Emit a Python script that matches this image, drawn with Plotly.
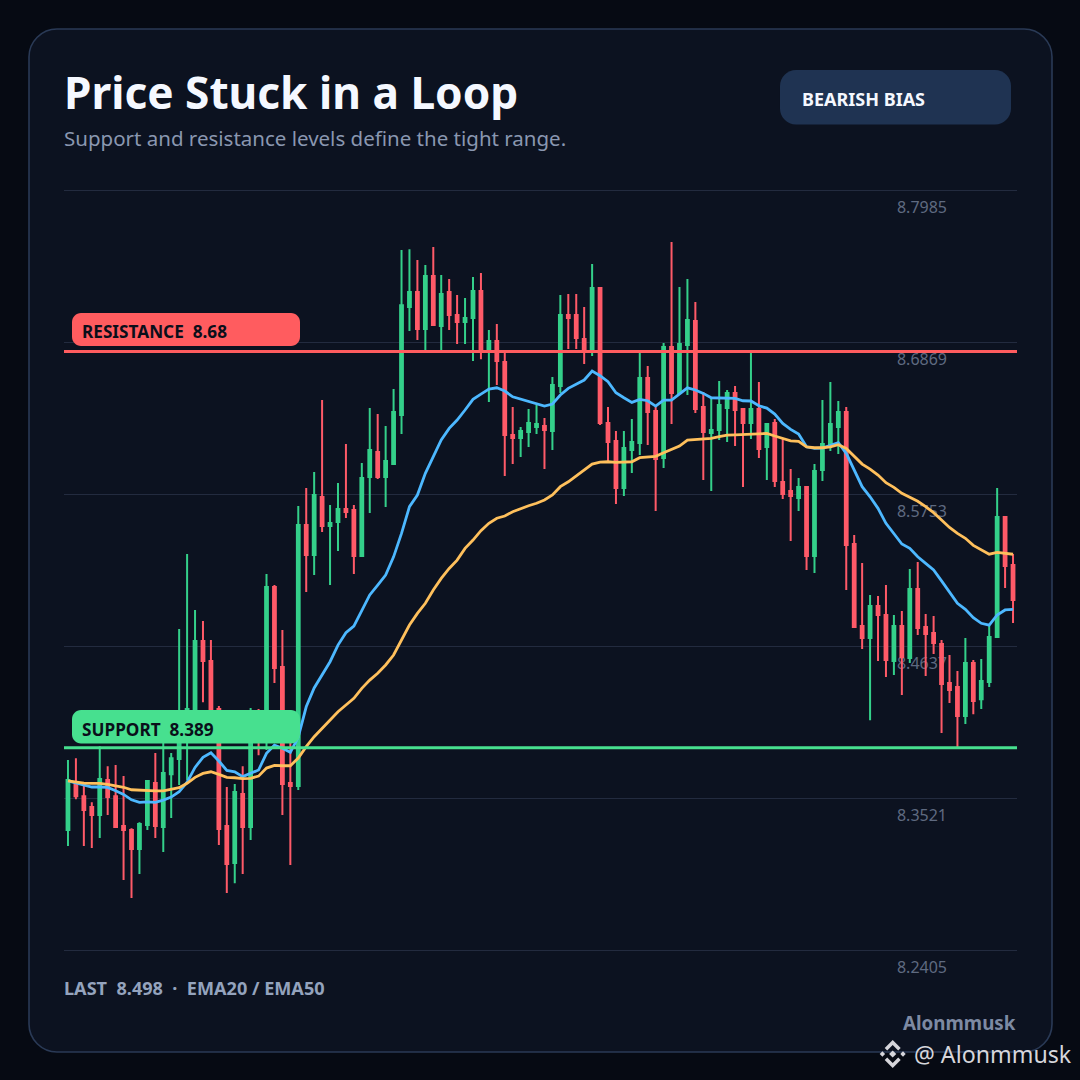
import plotly.graph_objects as go

TITLE = "Price Stuck in a Loop"
SUBTITLE = "Support and resistance levels define the tight range."
BADGE = "BEARISH BIAS"
FOOTER = "LAST\u00a0\u00a08.498\u00a0\u00a0·\u00a0\u00a0EMA20 / EMA50"
HANDLE = "Alonmmusk"
WATERMARK = "@ Alonmmusk"
RESISTANCE = 8.68
SUPPORT = 8.389
TICK_VALUES = [8.7985, 8.6869, 8.5753, 8.4637, 8.3521, 8.2405]
TICK_LABELS = ["8.7985", "8.6869", "8.5753", "8.4637", "8.3521", "8.2405"]
AXIS_MIN, AXIS_MAX = 8.2108, 8.8055

OPEN = [
8.3286,8.3638,8.3535,8.3455,8.3396,8.3653,8.3535,8.3315,8.3286,8.3146,
8.3323,8.3631,8.3308,8.3696,8.3807,8.4057,8.4174,8.4674,8.4527,8.4174,
8.3315,8.3044,8.3550,8.3308,8.4130,8.3983,8.5071,8.4483,8.3631,8.3609,
8.5525,8.5305,8.5731,8.5518,8.5548,8.5643,8.5636,8.5298,8.5878,8.6062,
8.5878,8.5973,8.6333,8.7126,8.7236,8.6965,8.7354,8.6986,8.7236,8.7067,
8.7016,8.7045,8.7243,8.6796,8.6876,8.6722,8.6186,8.6164,8.6208,8.6245,
8.6252,8.6216,8.6546,8.7067,8.7067,8.6891,8.6803,8.7265,8.6274,8.6142,
8.5797,8.6076,8.6127,8.6605,8.6363,8.6018,8.6832,8.6495,8.6847,8.7023,
8.6392,8.6201,8.6223,8.6384,8.6495,8.6377,8.6274,8.6377,8.6098,8.6274,
8.5841,8.5775,8.5724,8.5804,8.5298,8.5929,8.6113,8.6245,8.6355,8.5386,
8.4784,8.4696,8.4931,8.4865,8.4527,8.4784,8.4549,8.5056,8.4777,8.4733,
8.4652,8.4365,8.4336,8.4123,8.4512,8.4247,8.4373,8.4703,8.5584,8.5232]
HIGH = [
8.3800,8.3814,8.3609,8.3491,8.3902,8.3755,8.3763,8.3682,8.3300,8.3344,
8.3646,8.3851,8.3946,8.3851,8.4762,8.5313,8.4902,8.4821,8.4681,8.4196,
8.3602,8.3624,8.3755,8.4182,8.4174,8.5166,8.5085,8.4755,8.4093,8.5665,
8.5797,8.5915,8.6443,8.5672,8.5834,8.6120,8.5672,8.5980,8.6384,8.6340,
8.6252,8.6524,8.7544,8.7551,8.7471,8.7434,8.7566,8.7361,8.7332,8.7214,
8.7192,8.7346,8.7376,8.6957,8.7001,8.6796,8.6392,8.6245,8.6377,8.6406,
8.6311,8.6612,8.7214,8.7221,8.7221,8.7126,8.7442,8.7265,8.6392,8.6216,
8.6216,8.6304,8.6788,8.6693,8.6392,8.6862,8.7603,8.7273,8.7332,8.7163,
8.6502,8.6458,8.6583,8.6517,8.6546,8.6384,8.6788,8.6575,8.6274,8.6304,
8.6164,8.5936,8.5870,8.5804,8.5973,8.6443,8.6575,8.6436,8.6392,8.5452,
8.5247,8.5012,8.5004,8.5085,8.4865,8.4894,8.5202,8.5254,8.4872,8.4858,
8.4681,8.4571,8.4454,8.4696,8.4534,8.4542,8.4784,8.5797,8.5591,8.5312]
LOW = [
8.3168,8.3513,8.3168,8.3154,8.3227,8.3396,8.3308,8.2919,8.2787,8.2963,
8.3286,8.3227,8.3124,8.3374,8.3616,8.3653,8.4093,8.4225,8.4020,8.3176,
8.2823,8.2896,8.2963,8.3213,8.3836,8.3873,8.4365,8.3396,8.3029,8.3580,
8.5034,8.5158,8.5474,8.5085,8.5334,8.5577,8.5166,8.5298,8.5614,8.5863,
8.5658,8.5973,8.6193,8.6950,8.6884,8.6810,8.6994,8.6810,8.6957,8.6854,
8.6854,8.6729,8.6743,8.6428,8.6553,8.5885,8.5973,8.6025,8.6098,8.6193,
8.5936,8.6076,8.6495,8.6817,8.6817,8.6707,8.6766,8.6260,8.5988,8.5680,
8.5738,8.5907,8.6040,8.6113,8.5628,8.5944,8.6267,8.6495,8.6480,8.6348,
8.5856,8.5775,8.6150,8.6135,8.6106,8.5804,8.6157,8.6018,8.5856,8.5804,
8.5716,8.5408,8.5628,8.5195,8.5173,8.5848,8.6069,8.6047,8.5048,8.4777,
8.4615,8.4093,8.4527,8.4409,8.4424,8.4277,8.4512,8.4718,8.4417,8.4578,
8.3998,8.4218,8.3895,8.4064,8.4137,8.4174,8.4336,8.4703,8.5063,8.4806]
CLOSE = [
8.3653,8.3535,8.3433,8.3396,8.3660,8.3528,8.3308,8.3286,8.3146,8.3330,
8.3646,8.3315,8.3704,8.3814,8.4057,8.4174,8.4674,8.4527,8.4174,8.3293,
8.3036,8.3565,8.3308,8.4152,8.3983,8.5071,8.4476,8.3624,8.3609,8.5525,
8.5305,8.5746,8.5518,8.5540,8.5643,8.5621,8.5298,8.5871,8.6076,8.5878,
8.5995,8.6355,8.7140,8.7236,8.6965,8.7354,8.6994,8.7221,8.7067,8.7016,
8.7045,8.7243,8.6796,8.6876,8.6729,8.6186,8.6164,8.6216,8.6274,8.6267,
8.6223,8.6553,8.7067,8.7045,8.6898,8.6810,8.7265,8.6274,8.6135,8.5797,
8.6091,8.6135,8.6605,8.6355,8.6010,8.6832,8.6495,8.6854,8.7030,8.6377,
8.6208,8.6223,8.6406,8.6495,8.6370,8.6274,8.6377,8.6084,8.6267,8.5848,
8.5753,8.5738,8.5804,8.5298,8.5922,8.6120,8.6267,8.6355,8.5379,8.4777,
8.4696,8.4931,8.4865,8.4534,8.4784,8.4556,8.5056,8.4770,8.4726,8.4659,
8.4358,8.4314,8.4123,8.4512,8.4233,8.4380,8.4703,8.5584,8.5224,8.4975]
EMA20 = [
8.3647,8.3632,8.3616,8.3602,8.3602,8.3599,8.3574,8.3548,8.3508,8.3489,
8.3493,8.3489,8.3506,8.3528,8.3567,8.3638,8.3746,8.3820,8.3853,8.3793,
8.3724,8.3714,8.3678,8.3703,8.3727,8.3849,8.3910,8.3886,8.3857,8.3969,
8.4191,8.4329,8.4424,8.4522,8.4644,8.4735,8.4784,8.4902,8.5012,8.5085,
8.5158,8.5292,8.5464,8.5660,8.5746,8.5905,8.6027,8.6150,8.6235,8.6296,
8.6370,8.6448,8.6487,8.6524,8.6533,8.6509,8.6467,8.6450,8.6430,8.6418,
8.6399,8.6414,8.6480,8.6529,8.6561,8.6590,8.6656,8.6622,8.6578,8.6497,
8.6460,8.6426,8.6448,8.6438,8.6399,8.6443,8.6443,8.6487,8.6533,8.6517,
8.6492,8.6460,8.6460,8.6460,8.6456,8.6438,8.6436,8.6401,8.6384,8.6340,
8.6272,8.6228,8.6193,8.6100,8.6088,8.6091,8.6113,8.6130,8.6052,8.5929,
8.5807,8.5733,8.5648,8.5538,8.5464,8.5386,8.5354,8.5292,8.5244,8.5195,
8.5116,8.5036,8.4951,8.4906,8.4845,8.4804,8.4791,8.4865,8.4902,8.4906]
EMA50 = [
8.3647,8.3638,8.3631,8.3629,8.3629,8.3622,8.3611,8.3600,8.3582,8.3578,
8.3575,8.3573,8.3573,8.3585,8.3597,8.3629,8.3673,8.3702,8.3714,8.3695,
8.3673,8.3670,8.3663,8.3666,8.3682,8.3741,8.3761,8.3758,8.3758,8.3815,
8.3898,8.3971,8.4035,8.4094,8.4155,8.4204,8.4253,8.4326,8.4387,8.4437,
8.4498,8.4571,8.4681,8.4791,8.4877,8.4951,8.5048,8.5134,8.5207,8.5268,
8.5354,8.5415,8.5484,8.5538,8.5575,8.5592,8.5623,8.5648,8.5667,8.5685,
8.5709,8.5746,8.5807,8.5843,8.5885,8.5929,8.5973,8.5988,8.5990,8.5986,
8.5986,8.5990,8.6020,8.6027,8.6030,8.6056,8.6081,8.6105,8.6149,8.6152,
8.6157,8.6162,8.6174,8.6186,8.6188,8.6191,8.6193,8.6198,8.6198,8.6179,
8.6164,8.6144,8.6140,8.6100,8.6093,8.6093,8.6100,8.6115,8.6088,8.6032,
8.5973,8.5936,8.5892,8.5836,8.5802,8.5758,8.5729,8.5700,8.5660,8.5616,
8.5562,8.5508,8.5464,8.5428,8.5376,8.5341,8.5311,8.5324,8.5316,8.5311]
CANDLE_INDEX = list(range(len(CLOSE)))

assert all(len(a) == 120 for a in (OPEN, HIGH, LOW, CLOSE, EMA20, EMA50))

W = H = 1080
GREEN, RED = "#34d08a", "#ff5a68"
FONT = "Noto Sans"


def px(x):
    return x / W


def py(y):
    return 1 - y / H


def pt(x, y):
    return f"{px(x):.5f} {py(y):.5f}"


def rrect(x0, y0, x1, y1, r):
    k = r * 0.45
    return (
        f"M {pt(x0 + r, y0)} L {pt(x1 - r, y0)} "
        f"C {pt(x1 - k, y0)} {pt(x1, y0 + k)} {pt(x1, y0 + r)} "
        f"L {pt(x1, y1 - r)} C {pt(x1, y1 - k)} {pt(x1 - k, y1)} {pt(x1 - r, y1)} "
        f"L {pt(x0 + r, y1)} C {pt(x0 + k, y1)} {pt(x0, y1 - k)} {pt(x0, y1 - r)} "
        f"L {pt(x0, y0 + r)} C {pt(x0, y0 + k)} {pt(x0 + k, y0)} {pt(x0 + r, y0)} Z"
    )


def poly(points, cx, cy):
    return "M " + " L ".join(pt(cx + a, cy + b) for a, b in points) + " Z"


def box(path, fill, line=None, width=0, layer="above"):
    return dict(type="path", xref="paper", yref="paper", path=path, fillcolor=fill,
                line=dict(color=line or fill, width=width), layer=layer)


def txt(x, y, text, size, color, bold=False, anchor="left"):
    return dict(xref="paper", yref="paper", x=px(x), y=py(y), text=f"<b>{text}</b>" if bold else text,
                showarrow=False, xanchor=anchor, yanchor="middle", align=anchor,
                font=dict(family=FONT, size=size, color=color), borderpad=0)


fig = go.Figure()
fig.add_trace(go.Candlestick(
    x=CANDLE_INDEX, open=OPEN, high=HIGH, low=LOW, close=CLOSE, whiskerwidth=0,
    increasing=dict(line=dict(color=GREEN, width=2), fillcolor=GREEN),
    decreasing=dict(line=dict(color=RED, width=2), fillcolor=RED),
    showlegend=False, hoverinfo="skip"))
fig.add_trace(go.Scatter(x=CANDLE_INDEX, y=EMA20, mode="lines", showlegend=False, hoverinfo="skip",
                         line=dict(color="#4db8ff", width=2.8)))
fig.add_trace(go.Scatter(x=CANDLE_INDEX, y=EMA50, mode="lines", showlegend=False, hoverinfo="skip",
                         line=dict(color="#ffc05c", width=2.8)))

shapes = [
    box(rrect(29, 29, 1052, 1052, 28), "#0c1220", "#2a3a56", 1.6, "below"),
    dict(type="line", xref="paper", yref="y", x0=px(64), x1=px(1017), y0=RESISTANCE, y1=RESISTANCE,
         line=dict(color="#ff5c5f", width=3), layer="above"),
    dict(type="line", xref="paper", yref="y", x0=px(64), x1=px(1017), y0=SUPPORT, y1=SUPPORT,
         line=dict(color="#47e08f", width=3), layer="above"),
    box(rrect(780, 70, 1011, 124.5, 16), "#1f3352"),
    box(rrect(72, 313, 300, 346, 9), "#ff5c5f"),
    box(rrect(72, 710, 300, 743.5, 9), "#47e08f"),
]
LOGO = "#d6d6db"
cx, cy = 892.7, 1054
for pts in (
    [(0, -14), (8, -6), (5.5, -3.5), (0, -9), (-5.5, -3.5), (-8, -6)],
    [(0, 14), (8, 6), (5.5, 3.5), (0, 9), (-5.5, 3.5), (-8, 6)],
    [(0, -3.6), (3.6, 0), (0, 3.6), (-3.6, 0)],
    [(-10.3, -2.7), (-7.6, 0), (-10.3, 2.7), (-13, 0)],
    [(10.3, -2.7), (13, 0), (10.3, 2.7), (7.6, 0)],
):
    shapes.append(box(poly(pts, cx, cy), LOGO))

annotations = [
    txt(62.5, 91.5, TITLE, 44.2, "#f5f8ff", True),
    txt(63, 138, SUBTITLE, 20.5, "#8a97b0"),
    txt(801, 99, BADGE, 18, "#f5f8ff", True),
    txt(81, 332, "RESISTANCE\u00a0\u00a08.68", 17.2, "#0a0f1a", True),
    txt(81, 729, "SUPPORT\u00a0\u00a08.389", 17.2, "#0a0f1a", True),
    txt(63, 988, FOOTER, 18.1, "#94a3bd", True),
    txt(1017, 1023, HANDLE, 18.8, "#7d8aa3", True, "right"),
    txt(913, 1054, WATERMARK, 23.2, "#d6d6db"),
]

fig.update_layout(
    width=W, height=H, autosize=False,
    margin=dict(l=0, r=0, t=0, b=0, pad=0),
    paper_bgcolor="#060a13", plot_bgcolor="rgba(0,0,0,0)",
    showlegend=False, boxgap=0.5, hovermode=False,
    shapes=shapes, annotations=annotations,
    xaxis=dict(domain=[px(64), px(1017)], range=[-0.5, 119.5], visible=False,
               rangeslider=dict(visible=False), fixedrange=True),
    yaxis=dict(domain=[py(990.5), py(180.5)], range=[AXIS_MIN, AXIS_MAX],
               side="right", tickmode="array", tickvals=TICK_VALUES, ticktext=TICK_LABELS,
               ticks="", showline=False, zeroline=False, showgrid=True,
               gridcolor="#232b3f", gridwidth=1, layer="below traces", automargin=False,
               ticklabelposition="inside", ticklabelstandoff=67, ticklabelshift=17,
               tickfont=dict(family=FONT, size=16, color="#5f6a80"), fixedrange=True),
)

fig.write_html(
    "out.html",
    config=dict(displayModeBar=False, responsive=False),
    post_script="document.documentElement.style.background='#060a13';"
                "document.body.style.margin='0';document.body.style.overflow='hidden';",
)
